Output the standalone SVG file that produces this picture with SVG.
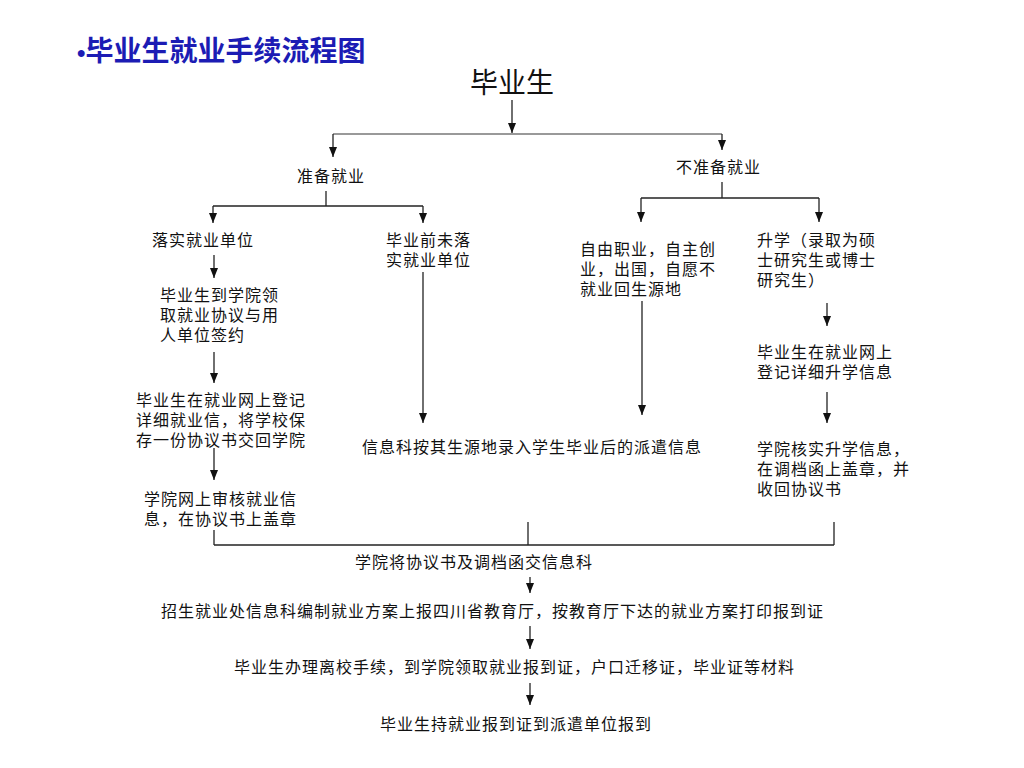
<svg xmlns="http://www.w3.org/2000/svg" width="1024" height="768" viewBox="0 0 1024 768">
<style>
  .t { font-family: "Noto Sans CJK SC", "Liberation Sans", sans-serif; font-size: 16px; letter-spacing: 1px; fill: #111; }
  .title { font-family: "Noto Sans CJK SC", "Liberation Sans", sans-serif; font-size: 28px; font-weight: bold; fill: #1c1cb4; }
  .big { font-family: "Noto Sans CJK SC", "Liberation Sans", sans-serif; font-size: 28px; fill: #111; }
  .ln { stroke: #222; stroke-width: 1.3; fill: none; }
  .lg { stroke: #777; stroke-width: 1.5; fill: none; }
  .ar { stroke: #222; stroke-width: 1.3; fill: none; marker-end: url(#ah); }
</style>
<defs>
  <marker id="ah" markerUnits="userSpaceOnUse" markerWidth="10" markerHeight="10" refX="10" refY="5" orient="auto" viewBox="0 0 10 10">
    <path d="M0,1 L10,5 L0,9 z" fill="#111"/>
  </marker>
</defs>
<rect width="1024" height="768" fill="#fff"/>

<g id="title">
  <text class="title" x="77" y="61"><tspan font-family="Liberation Sans" font-size="24">•</tspan>毕业生就业手续流程图</text>
</g>

<g id="connectors">
  <line class="ar" x1="512" y1="100" x2="512" y2="133"/>
  <line class="lg" x1="333" y1="134" x2="722" y2="134"/>
  <line class="ar" x1="333" y1="134" x2="333" y2="157"/>
  <line class="ar" x1="722" y1="134" x2="722" y2="150"/>

  <line class="ln" x1="326" y1="191" x2="326" y2="206"/>
  <line class="ln" x1="213" y1="206" x2="423" y2="206"/>
  <line class="ar" x1="213" y1="206" x2="213" y2="223"/>
  <line class="ar" x1="423" y1="206" x2="423" y2="223"/>

  <line class="ln" x1="722" y1="182" x2="722" y2="198"/>
  <line class="ln" x1="641" y1="198" x2="819" y2="198"/>
  <line class="ar" x1="641" y1="198" x2="641" y2="222"/>
  <line class="ar" x1="819" y1="198" x2="819" y2="222"/>

  <line class="ar" x1="214" y1="255" x2="214" y2="278"/>
  <line class="ar" x1="214" y1="352" x2="214" y2="383"/>
  <line class="ar" x1="214" y1="448" x2="214" y2="480"/>

  <line class="ar" x1="423" y1="272" x2="423" y2="423"/>
  <line class="ar" x1="642" y1="301" x2="642" y2="415"/>

  <line class="ar" x1="827" y1="303" x2="827" y2="326"/>
  <line class="ar" x1="827" y1="392" x2="827" y2="423"/>

  <line class="ln" x1="214" y1="530" x2="214" y2="545"/>
  <line class="ln" x1="528" y1="522" x2="528" y2="545"/>
  <line class="ln" x1="834" y1="522" x2="834" y2="545"/>
  <line class="ln" x1="214" y1="545" x2="834" y2="545"/>

  <line class="ar" x1="530" y1="577" x2="530" y2="593"/>
  <line class="ar" x1="530" y1="626" x2="530" y2="649"/>
  <line class="ar" x1="530" y1="683" x2="530" y2="705"/>
</g>

<g id="n-graduate"><text class="big" x="512" y="93" text-anchor="middle">毕业生</text></g>
<g id="n-prepare"><text class="t" x="297" y="182">准备就业</text></g>
<g id="n-notprepare"><text class="t" x="676" y="173">不准备就业</text></g>

<g id="n-employed"><text class="t" x="152" y="246">落实就业单位</text></g>
<g id="n-unemployed">
  <text class="t" x="386" y="246">毕业前未落<tspan x="386" y="266">实就业单位</tspan></text>
</g>
<g id="n-free">
  <text class="t" x="580" y="255">自由职业，自主创<tspan x="580" y="275">业，出国，自愿不</tspan><tspan x="580" y="295">就业回生源地</tspan></text>
</g>
<g id="n-further">
  <text class="t" x="757" y="246">升学（录取为硕<tspan x="757" y="266">士研究生或博士</tspan><tspan x="757" y="286">研究生）</tspan></text>
</g>

<g id="n-sign">
  <text class="t" x="160" y="301">毕业生到学院领<tspan x="160" y="321">取就业协议与用</tspan><tspan x="160" y="341">人单位签约</tspan></text>
</g>
<g id="n-register">
  <text class="t" x="136" y="406">毕业生在就业网上登记<tspan x="136" y="426">详细就业信，将学校保</tspan><tspan x="136" y="446">存一份协议书交回学院</tspan></text>
</g>
<g id="n-review">
  <text class="t" x="144" y="505">学院网上审核就业信<tspan x="144" y="525">息，在协议书上盖章</tspan></text>
</g>

<g id="n-dispatch"><text class="t" x="362" y="453">信息科按其生源地录入学生毕业后的派遣信息</text></g>

<g id="n-register2">
  <text class="t" x="757" y="358">毕业生在就业网上<tspan x="757" y="378">登记详细升学信息</tspan></text>
</g>
<g id="n-verify">
  <text class="t" x="757" y="455">学院核实升学信息，<tspan x="757" y="475">在调档函上盖章，并</tspan><tspan x="757" y="495">收回协议书</tspan></text>
</g>

<g id="n-submit"><text class="t" x="355" y="568">学院将协议书及调档函交信息科</text></g>
<g id="n-plan"><text class="t" x="161" y="617">招生就业处信息科编制就业方案上报四川省教育厅，按教育厅下达的就业方案打印报到证</text></g>
<g id="n-leave"><text class="t" x="234" y="673">毕业生办理离校手续，到学院领取就业报到证，户口迁移证，毕业证等材料</text></g>
<g id="n-report"><text class="t" x="380" y="730">毕业生持就业报到证到派遣单位报到</text></g>
</svg>
